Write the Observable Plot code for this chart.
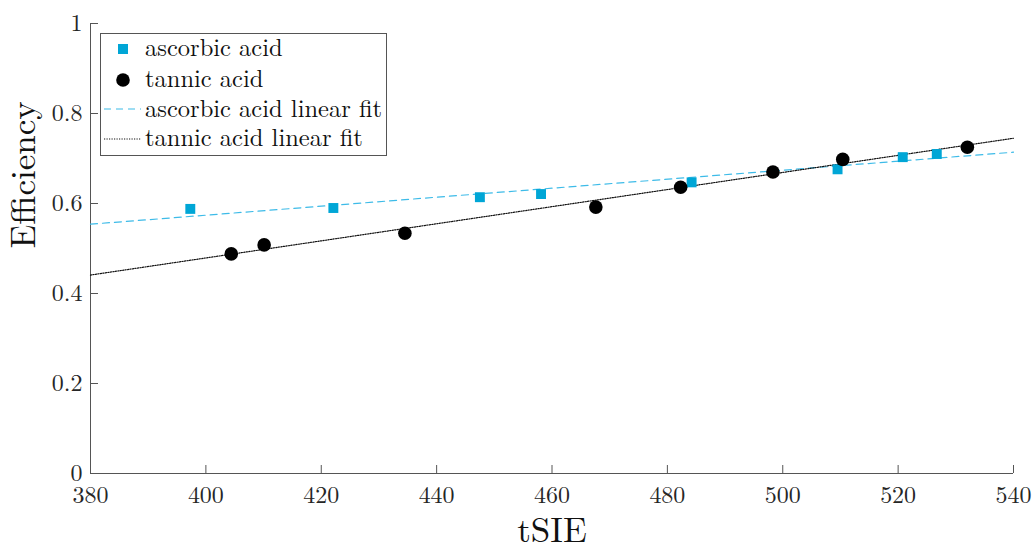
<!DOCTYPE html>
<html>
<head>
<meta charset="utf-8">
<script src="https://cdn.jsdelivr.net/npm/d3@7"></script>
<script src="https://cdn.jsdelivr.net/npm/@observablehq/plot@0.6"></script>
<style>
  html, body { margin: 0; padding: 0; background: #fff; }
  #chart { width: 1033px; height: 542px; }
</style>
</head>
<body>
<div id="chart"></div>
<script>
// Data
const ascorbicX = [397.3, 422.1, 447.5, 458.1, 484.2, 509.5, 520.8, 526.7];
const ascorbicY = [0.588, 0.590, 0.614, 0.621, 0.647, 0.676, 0.703, 0.710];
const tannicX = [404.4, 410.1, 434.5, 467.6, 482.3, 498.3, 510.4, 532.0];
const tannicY = [0.488, 0.508, 0.534, 0.592, 0.636, 0.670, 0.698, 0.725];
const fitX = [380, 540];
const ascorbicFitY = [0.554, 0.714];
const tannicFitY = [0.441, 0.745];
const xTicks = [380, 400, 420, 440, 460, 480, 500, 520, 540];
const yTicks = [0, 0.2, 0.4, 0.6, 0.8, 1];
const legendLabels = ["ascorbic acid", "tannic acid", "ascorbic acid linear fit", "tannic acid linear fit"];

const W = 1033, H = 542;
const mTop = 23, mRight = 20, mBottom = 69, mLeft = 90;
const innerW = W - mLeft - mRight, innerH = H - mTop - mBottom;
const FONT = "'Latin Modern Roman', 'CMU Serif', 'Liberation Serif', serif";
const cAsc = "#00A6D6", cAscFit = "#3DBBE8", axisColor = "#555";

const asc = ascorbicX.map((x, i) => ({x, y: ascorbicY[i]}));
const tan = tannicX.map((x, i) => ({x, y: tannicY[i]}));
const ascFit = fitX.map((x, i) => ({x, y: ascorbicFitY[i]}));
const tanFit = fitX.map((x, i) => ({x, y: tannicFitY[i]}));

const plot = Plot.plot({
  width: W, height: H,
  marginTop: mTop, marginRight: mRight, marginBottom: mBottom, marginLeft: mLeft,
  style: {background: "#fff", overflow: "visible"},
  x: {domain: [380, 540]},
  y: {domain: [0, 1]},
  marks: [
    Plot.axisX({ticks: xTicks, tickSize: 0, tickPadding: 12, fontSize: 24, color: "#262626", label: null, tickFormat: d => String(d)}),
    Plot.axisY({ticks: yTicks, tickSize: 0, tickPadding: 8, fontSize: 24, color: "#262626", label: null, tickFormat: d => String(d)}),
    Plot.ruleX(xTicks, {x: d => d, insetTop: innerH - 8, stroke: axisColor, strokeWidth: 1}),
    Plot.ruleY(yTicks, {y: d => d, insetRight: innerW - 8, stroke: axisColor, strokeWidth: 1}),
    Plot.ruleX([380], {stroke: axisColor, strokeWidth: 1}),
    Plot.ruleY([0], {stroke: axisColor, strokeWidth: 1}),
    Plot.line(ascFit, {x: "x", y: "y", stroke: cAscFit, strokeWidth: 1.2, strokeDasharray: "7,5"}),
    Plot.line(tanFit, {x: "x", y: "y", stroke: "#111", strokeWidth: 1.2, strokeDasharray: "1.2,1.3"}),
    Plot.dot(asc, {x: "x", y: "y", symbol: "square", r: 5.6, fill: cAsc, stroke: "none"}),
    Plot.dot(tan, {x: "x", y: "y", symbol: "circle", r: 6.8, fill: "#000", stroke: "none"}),
    Plot.text(["tSIE"], {frameAnchor: "bottom", dy: 44, lineAnchor: "top", text: d => d, fontSize: 35, fill: "#111"}),
    Plot.text(["Efficiency"], {frameAnchor: "left", dx: -67, rotate: -90, text: d => d, fontSize: 35, fill: "#111"})
  ]
});
document.getElementById("chart").appendChild(plot);

// Legend box (drawn in pixel space inside the plot's SVG)
const svg = d3.select(plot);
const lg = svg.append("g").attr("font-size", 24.5).attr("fill", "#111").attr("text-anchor", "start");
lg.append("rect").attr("x", 100.5).attr("y", 33.5).attr("width", 286).attr("height", 122)
  .attr("fill", "#fff").attr("stroke", axisColor).attr("stroke-width", 1);
const markY = [49, 80, 109, 139];
const baseY = [56, 87, 117, 146];
lg.append("rect").attr("x", 123 - 5).attr("y", markY[0] - 5).attr("width", 10).attr("height", 10).attr("fill", cAsc);
lg.append("circle").attr("cx", 123).attr("cy", markY[1]).attr("r", 6.8).attr("fill", "#000");
lg.append("line").attr("x1", 104).attr("x2", 141).attr("y1", markY[2]).attr("y2", markY[2])
  .attr("stroke", cAscFit).attr("stroke-width", 1.2).attr("stroke-dasharray", "7,5");
lg.append("line").attr("x1", 104).attr("x2", 141).attr("y1", markY[3]).attr("y2", markY[3])
  .attr("stroke", "#111").attr("stroke-width", 1.2).attr("stroke-dasharray", "1.2,1.3");
legendLabels.forEach((t, i) => {
  lg.append("text").attr("x", 145).attr("y", baseY[i]).text(t);
});

// Force the serif font on every text element
svg.style("font-family", FONT, "important");
svg.selectAll("text").style("font-family", FONT, "important");
</script>
</body>
</html>
